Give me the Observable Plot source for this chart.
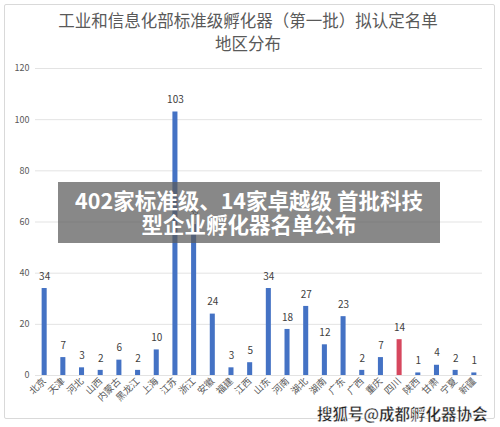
<!DOCTYPE html>
<html><head><meta charset="utf-8">
<script src="https://cdn.jsdelivr.net/npm/d3@7"></script>
<script src="https://cdn.jsdelivr.net/npm/@observablehq/plot@0.6"></script>
<style>
html,body{margin:0;padding:0;background:#fff;}
#wrap{position:relative;width:500px;height:427px;overflow:hidden;font-family:"Noto Sans CJK SC","Noto Sans",sans-serif;}
#frame{position:absolute;left:4px;top:4px;width:491px;height:415px;border:1px solid #d9d9d9;border-radius:2px;box-sizing:border-box;}
#title{position:absolute;left:0;top:9px;width:496px;text-align:center;font-size:16.5px;line-height:23px;color:#595959;}
#chart{position:absolute;left:0;top:0;}
#banner{position:absolute;left:58px;top:182px;width:382px;height:61px;background:rgba(90,90,90,0.72);color:#fff;font-weight:bold;font-size:21.5px;line-height:24px;text-align:center;box-sizing:border-box;padding-top:6px;white-space:nowrap;}
#mark{position:absolute;left:317px;top:402px;font-size:15.5px;font-weight:bold;color:#222;-webkit-text-stroke:0.4px #fff;text-shadow:0 0 2px #fff,0 0 2px #fff;white-space:nowrap;}
</style></head>
<body>
<div id="wrap">
  <div id="frame"></div>
  <div id="chart"></div>
  <div id="title">工业和信息化部标准级孵化器（第一批）拟认定名单<br>地区分布</div>
  <div id="banner">402家标准级、14家卓越级 首批科技<br>型企业孵化器名单公布</div>
  <div id="mark">搜狐号@成都孵化器协会</div>
</div>
<script>
const regions = ["北京","天津","河北","山西","内蒙古","黑龙江","上海","江苏","浙江","安徽","福建","江西","山东","河南","湖北","湖南","广东","广西","重庆","四川","陕西","甘肃","宁夏","新疆"];
const counts = [34,7,3,2,6,2,10,103,59,24,3,5,34,18,27,12,23,2,7,14,1,4,2,1];
const highlight = "四川";
const yTicks = [0,20,40,60,80,100,120];

const data = regions.map((r, i) => ({region: r, count: counts[i]}));
const font = '"Noto Sans CJK SC","Noto Sans",sans-serif';

const chart = Plot.plot({
  width: 500,
  height: 427,
  marginTop: 68,
  marginBottom: 52,
  marginLeft: 28,
  marginRight: 10,
  style: {fontFamily: font, background: "transparent", color: "#595959"},
  x: {domain: regions, padding: 0.73, round: false, axis: null},
  y: {domain: [0, 120], axis: null},
  marks: [
    Plot.ruleY(yTicks, {stroke: "#e3e3e3", strokeWidth: 1, insetLeft: 7, insetRight: 8}),
    Plot.axisY({ticks: yTicks, tickSize: 0, tickPadding: 0, dx: 1, fontSize: 9, fill: "#595959", label: null}),
    Plot.axisX({tickRotate: -45, tickSize: 0, tickPadding: 4, fontSize: 9.5, fill: "#595959", label: null}),
    Plot.barY(data, {x: "region", y: "count", fill: d => d.region === highlight ? "#d6475e" : "#4472c4"}),
    Plot.text(data, {x: "region", y: "count", text: d => String(d.count), dy: -12, fontSize: d => d.region === "浙江" ? 8 : 10, fill: "#404040"})
  ]
});
document.getElementById("chart").appendChild(chart);
</script>
</body></html>
